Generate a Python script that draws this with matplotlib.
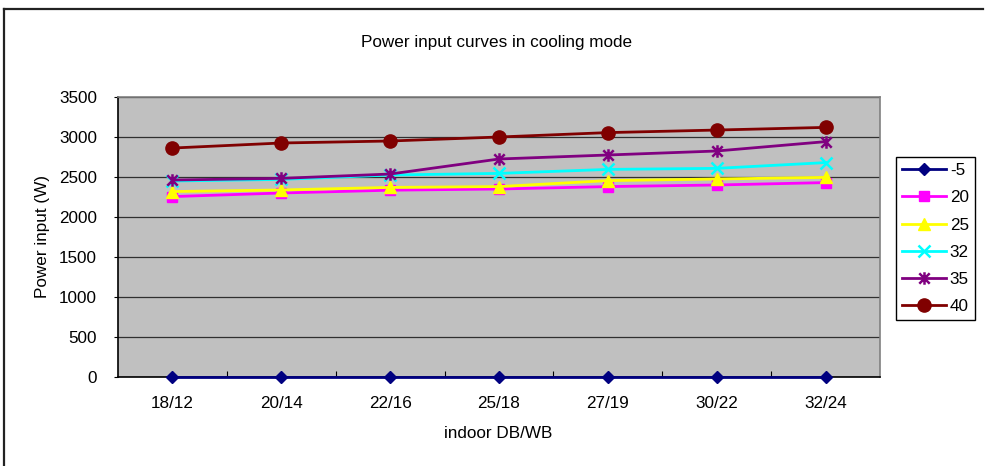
import numpy as np
import matplotlib
matplotlib.use("Agg")
import matplotlib.pyplot as plt
from matplotlib.path import Path
from matplotlib.lines import Line2D

plt.rcParams['font.family'] = ['Liberation Sans', 'DejaVu Sans']

# Indoor dry-bulb / wet-bulb conditions
categories = ["18/12", "20/14", "22/16", "25/18", "27/19", "30/22", "32/24"]

# Outdoor temperature series (legend labels)
series_labels = ["-5", "20", "25", "32", "35", "40"]

# Power input (W) for each outdoor temperature
power_m5 = [0, 0, 0, 0, 0, 0, 0]
power_20 = [2255, 2300, 2335, 2350, 2380, 2400, 2430]
power_25 = [2318, 2338, 2370, 2380, 2455, 2475, 2495]
power_32 = [2450, 2470, 2525, 2545, 2595, 2608, 2680]
power_35 = [2462, 2483, 2537, 2725, 2775, 2825, 2942]
power_40 = [2862, 2925, 2950, 3000, 3055, 3087, 3120]

y_ticks = [0, 500, 1000, 1500, 2000, 2500, 3000, 3500]

# Star marker: an "x" crossed by a vertical bar
star_path = Path(
    [(-1, -1), (1, 1), (-1, 1), (1, -1), (0, -1.2), (0, 1.2)],
    [Path.MOVETO, Path.LINETO, Path.MOVETO, Path.LINETO, Path.MOVETO, Path.LINETO],
)

styles = [
    dict(color="#000080", marker="D", ms=6.5, mfc="#000080", mec="#000080"),
    dict(color="#FF00FF", marker="s", ms=7, mfc="#FF00FF", mec="#FF00FF"),
    dict(color="#FFFF00", marker="^", ms=8.5, mfc="#FFFF00", mec="#FFFF00"),
    dict(color="#00FFFF", marker="x", ms=8, mfc="#00FFFF", mec="#00FFFF", mew=1.8),
    dict(color="#800080", marker=star_path, ms=9, mfc="#800080", mec="#800080", mew=1.8),
    dict(color="#800000", marker="o", ms=9.5, mfc="#800000", mec="#800000"),
]

all_series = [power_m5, power_20, power_25, power_32, power_35, power_40]

FS = 12.3
W, H = 985, 466
fig = plt.figure(figsize=(W / 100, H / 100), dpi=100)

# Outer chart border (top and left edges)
fig.add_artist(Line2D([3.5 / W, 3.5 / W], [0, 1 - 8.5 / H], transform=fig.transFigure,
                      color="#222222", lw=1.6))
fig.add_artist(Line2D([3.5 / W, 983 / W], [1 - 8.5 / H, 1 - 8.5 / H], transform=fig.transFigure,
                      color="#222222", lw=1.6))

left, right, top, bottom = 118, 880, 97, 377
ax = fig.add_axes([left / W, 1 - bottom / H, (right - left) / W, (bottom - top) / H])
ax.set_facecolor("#C0C0C0")

x = np.arange(len(categories))
handles = []
for vals, lab, st in zip(all_series, series_labels, styles):
    st = dict(st)
    mew = st.pop("mew", 1.0)
    (h,) = ax.plot(x, vals, lw=2.0, label=lab, mew=mew, clip_on=False, zorder=3, **st)
    handles.append(h)

ax.set_xlim(-0.5, len(categories) - 0.5)
ax.set_ylim(0, 3500)
ax.set_yticks(y_ticks)
ax.set_yticklabels([str(v) for v in y_ticks])
ax.set_xticks(x)
ax.set_xticklabels(categories)
ax.set_xticks(np.arange(0.5, len(categories) - 1, 1.0), minor=True)

ax.tick_params(axis="x", which="major", length=0, pad=14, labelsize=FS)
ax.tick_params(axis="x", which="minor", direction="in", length=4, width=0.8, color="#000000")
ax.tick_params(axis="y", direction="out", length=3, width=0.8, pad=12, labelsize=FS)

ax.grid(axis="y", color="#303030", lw=0.9, zorder=1)
ax.set_axisbelow(True)

for side in ("top", "right"):
    ax.spines[side].set_color("#808080")
    ax.spines[side].set_linewidth(1.2)
for side in ("left", "bottom"):
    ax.spines[side].set_color("#000000")
    ax.spines[side].set_linewidth(1.2)

fig.text(42 / W, 1 - 237 / H, "Power input (W)", rotation=90, ha="center", va="center", fontsize=FS)
fig.text(498 / W, 1 - 433 / H, "indoor DB/WB", ha="center", va="center", fontsize=FS)
fig.text(497 / W, 1 - 42 / H, "Power input curves in cooling mode", ha="center", va="center", fontsize=FS)

leg = fig.legend(handles=handles, labels=series_labels, loc="upper left",
                 bbox_to_anchor=(896 / W, 1 - 157 / H), fontsize=FS,
                 frameon=True, fancybox=False, framealpha=1, edgecolor="#000000",
                 borderpad=0.35, labelspacing=0.72, handlelength=2.6, handletextpad=0.2,
                 borderaxespad=0)
leg.get_frame().set_linewidth(1.0)

fig.savefig("out.png", dpi=100)
